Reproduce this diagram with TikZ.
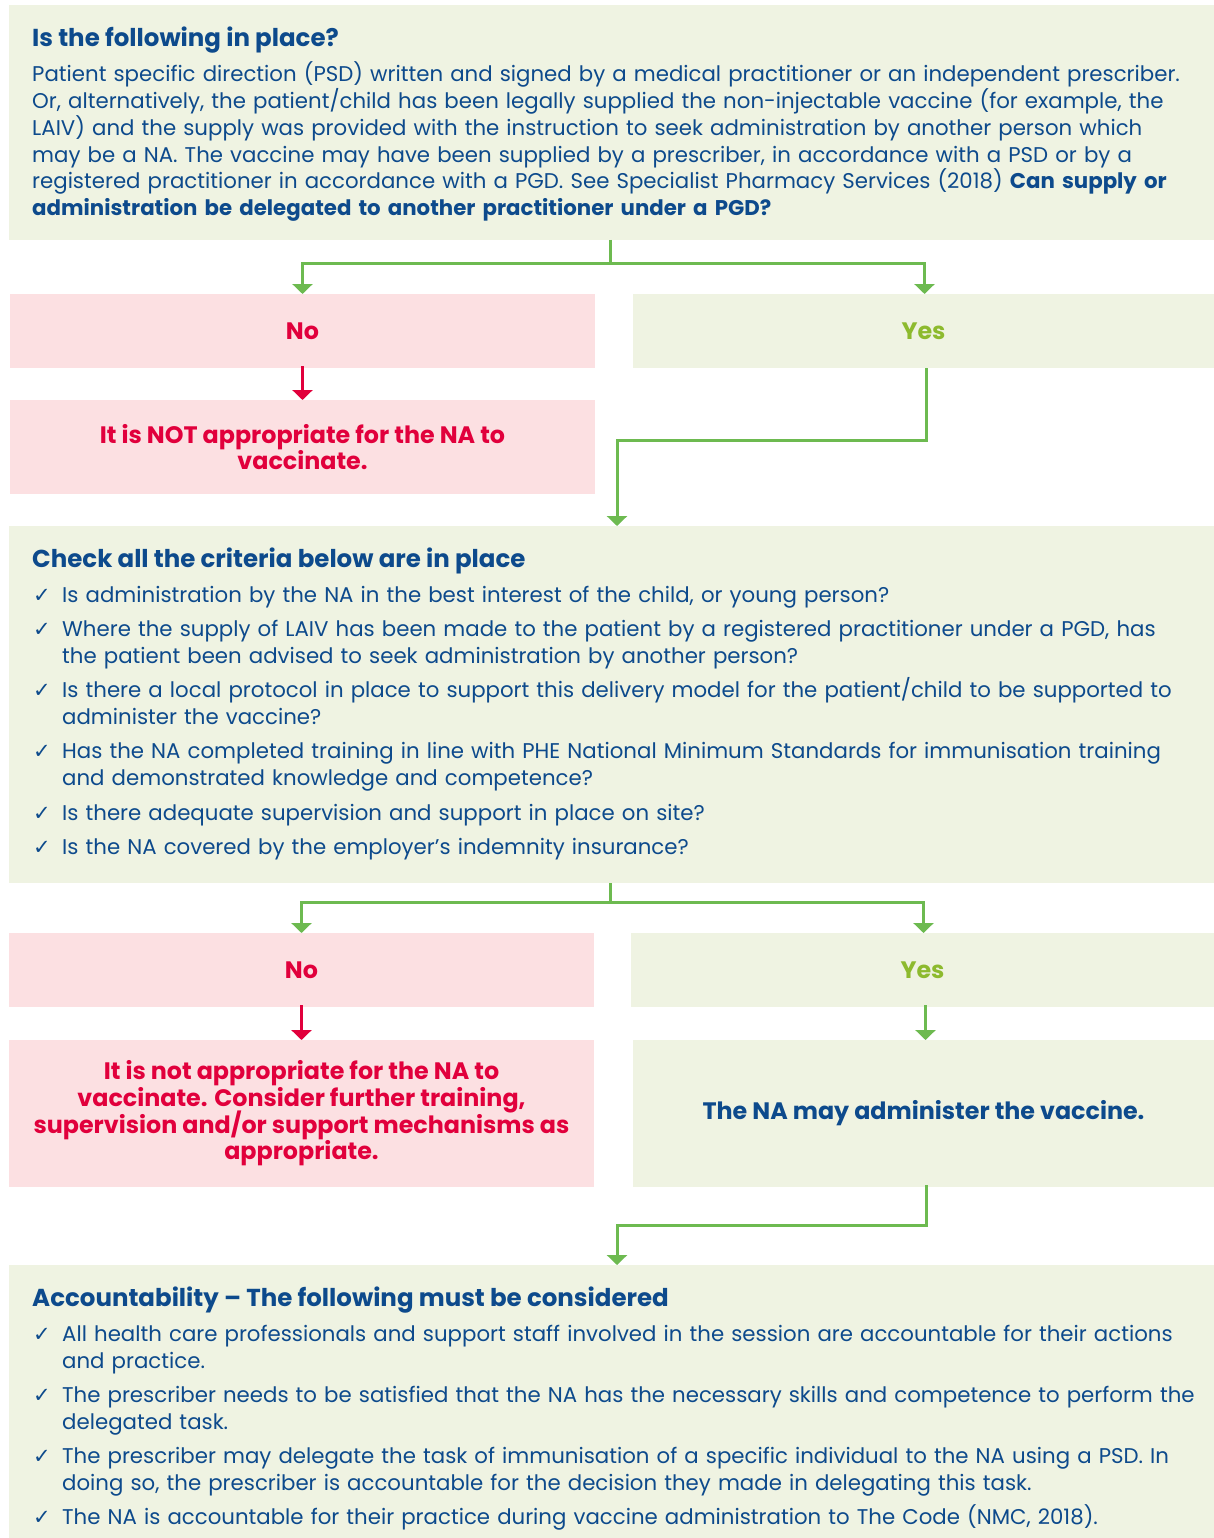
\documentclass[tikz,border=0pt]{standalone}
\usepackage{fontspec}
\setmainfont{Poppins}
\newfontfamily\symfont{DejaVu Sans}
\usetikzlibrary{arrows.meta}
\definecolor{boxgreen}{HTML}{EFF3E2}
\definecolor{boxpink}{HTML}{FCE0E2}
\definecolor{navy}{HTML}{0D4A8C}
\definecolor{crimson}{HTML}{E1003C}
\definecolor{lime}{HTML}{8DBA2E}
\definecolor{arrowgreen}{HTML}{6DBA50}
\newcommand\bodysize{\fontsize{21.3}{26.7}\selectfont\lineskiplimit=-20pt}
\newcommand\listsize{\fontsize{21.3}{27}\selectfont\lineskiplimit=-20pt\setlength\parskip{7.3pt}}
\newcommand\titlesize{\fontsize{24.5}{26}\selectfont\bfseries}
\newcommand\lblsize{\fontsize{23.8}{26.7}\selectfont\bfseries\lineskiplimit=-20pt}
\newcommand\chkitem[1]{\noindent\hangindent=30pt\hangafter=1\makebox[30pt][l]{\hspace{1pt}{\symfont\fontsize{21}{21}\selectfont ✓}}#1\par}
\begin{document}
\begin{tikzpicture}[x=1pt,y=-1pt,
  gbox/.style={fill=boxgreen, draw=none, anchor=north west, inner sep=0, outer sep=0},
  pbox/.style={fill=boxpink, draw=none, anchor=north west, inner sep=0, outer sep=0},
  ttl/.style={anchor=base west, inner sep=0, font=\titlesize, text=navy},
  bodytext/.style={anchor=base west, inner sep=0, text width=1178pt, align=left, font=\bodysize, text=navy},
  listtext/.style={anchor=base west, inner sep=0, text width=1178pt, font=\listsize\raggedright, text=navy},
  lbl/.style={inner sep=0, font=\lblsize, align=center},
  conn/.style={draw=arrowgreen, line width=3pt, -{Triangle[width=20pt,length=10pt]}},
  rconn/.style={draw=crimson, line width=3pt, -{Triangle[width=20pt,length=10pt]}}]
\path[use as bounding box, fill=white] (0,0) rectangle (1214,1538);

% ---- first question
\node[gbox, minimum width=1205pt, minimum height=235pt] (q1) at (9,5) {};
\node[ttl] (q1t) at (32,47) {Is the following in place?};
\node[bodytext] (q1b) at (32,82) {Patient specific direction (PSD) written and signed by a medical practitioner or an independent prescriber.\\
Or, alternatively, the patient/child has been legally supplied the non-injectable vaccine (for example, the\\
LAIV) and the supply was provided with the instruction to seek administration by another person which\\
may be a NA. The vaccine may have been supplied by a prescriber, in accordance with a PSD or by a\\
registered practitioner in accordance with a PGD. See Specialist Pharmacy Services (2018) \textbf{Can supply or}\\
\textbf{administration be delegated to another practitioner under a PGD?}};

\node[pbox, minimum width=585pt, minimum height=74pt] (no1) at (10,294) {};
\node[lbl, text=crimson] (no1t) at (no1.center) {No};
\node[gbox, minimum width=581pt, minimum height=74pt] (yes1) at (633,294) {};
\node[lbl, text=lime] (yes1t) at (yes1.center) {Yes};
\node[pbox, minimum width=585pt, minimum height=94pt] (nota) at (10,400) {};
\node[lbl, text=crimson] (notat) at (nota.center) {It is NOT appropriate for the NA to\\vaccinate.};

\coordinate (j1) at (610,263);
\draw[conn] (q1.south -| j1) -- (j1) -| (no1.north);
\draw[conn] (j1) -| ([xshift=1pt]yes1.north);
\draw[rconn] ([yshift=2pt]no1.south) -- (nota.north);

% ---- criteria
\node[gbox, minimum width=1205pt, minimum height=357pt] (q2) at (9,526) {};
\coordinate (c1) at (617,440);
\draw[conn] ([xshift=3pt]yes1.south) |- (c1) -- (c1 |- q2.north);
\node[ttl] (q2t) at (32,567) {Check all the criteria below are in place};
\node[listtext] (q2b) at (32,602) {%
\chkitem{Is administration by the NA in the best interest of the child, or young person?}
\chkitem{Where the supply of LAIV has been made to the patient by a registered practitioner under a PGD, has\newline the patient been advised to seek administration by another person?}
\chkitem{Is there a local protocol in place to support this delivery model for the patient/child to be supported to\newline administer the vaccine?}
\chkitem{Has the NA completed training in line with PHE National Minimum Standards for immunisation training\newline and demonstrated knowledge and competence?}
\chkitem{Is there adequate supervision and support in place on site?}
\chkitem{Is the NA covered by the employer’s indemnity insurance?}};

\node[pbox, minimum width=585pt, minimum height=74pt] (no2) at (9,933) {};
\node[lbl, text=crimson] (no2t) at (no2.center) {No};
\node[gbox, minimum width=583pt, minimum height=74pt] (yes2) at (631,933) {};
\node[lbl, text=lime] (yes2t) at (yes2.center) {Yes};
\node[pbox, minimum width=585pt, minimum height=147pt] (notb) at (9,1040) {};
\node[lbl, text=crimson] (notbt) at (notb.center) {It is not appropriate for the NA to\\vaccinate. Consider further training,\\supervision and/or support mechanisms as\\appropriate.};
\node[gbox, minimum width=581pt, minimum height=147pt] (may) at (633,1040) {};
\node[lbl, text=navy] (mayt) at (may.center) {The NA may administer the vaccine.};

\coordinate (j2) at (610,902);
\draw[conn] (q2.south -| j2) -- (j2) -| (no2.north);
\draw[conn] (j2) -| ([xshift=1pt]yes2.north);
\draw[rconn] ([yshift=2pt]no2.south) -- (notb.north);
\draw[conn] ([xshift=2pt,yshift=2pt]yes2.south -| may.north) -- ([xshift=2pt]may.north);

% ---- accountability
\node[gbox, minimum width=1205pt, minimum height=273pt] (q3) at (9,1265) {};
\coordinate (c2) at (617,1225);
\draw[conn] ([xshift=3pt,yshift=2pt]may.south) |- (c2) -- (c2 |- q3.north);
\node[ttl] (q3t) at (32,1306) {Accountability – The following must be considered};
\node[listtext] (q3b) at (32,1341) {%
\chkitem{All health care professionals and support staff involved in the session are accountable for their actions\newline and practice.}
\chkitem{The prescriber needs to be satisfied that the NA has the necessary skills and competence to perform the\newline delegated task.}
\chkitem{The prescriber may delegate the task of immunisation of a specific individual to the NA using a PSD. In\newline doing so, the prescriber is accountable for the decision they made in delegating this task.}
\chkitem{The NA is accountable for their practice during vaccine administration to The Code (NMC, 2018).}};
\end{tikzpicture}
\end{document}
